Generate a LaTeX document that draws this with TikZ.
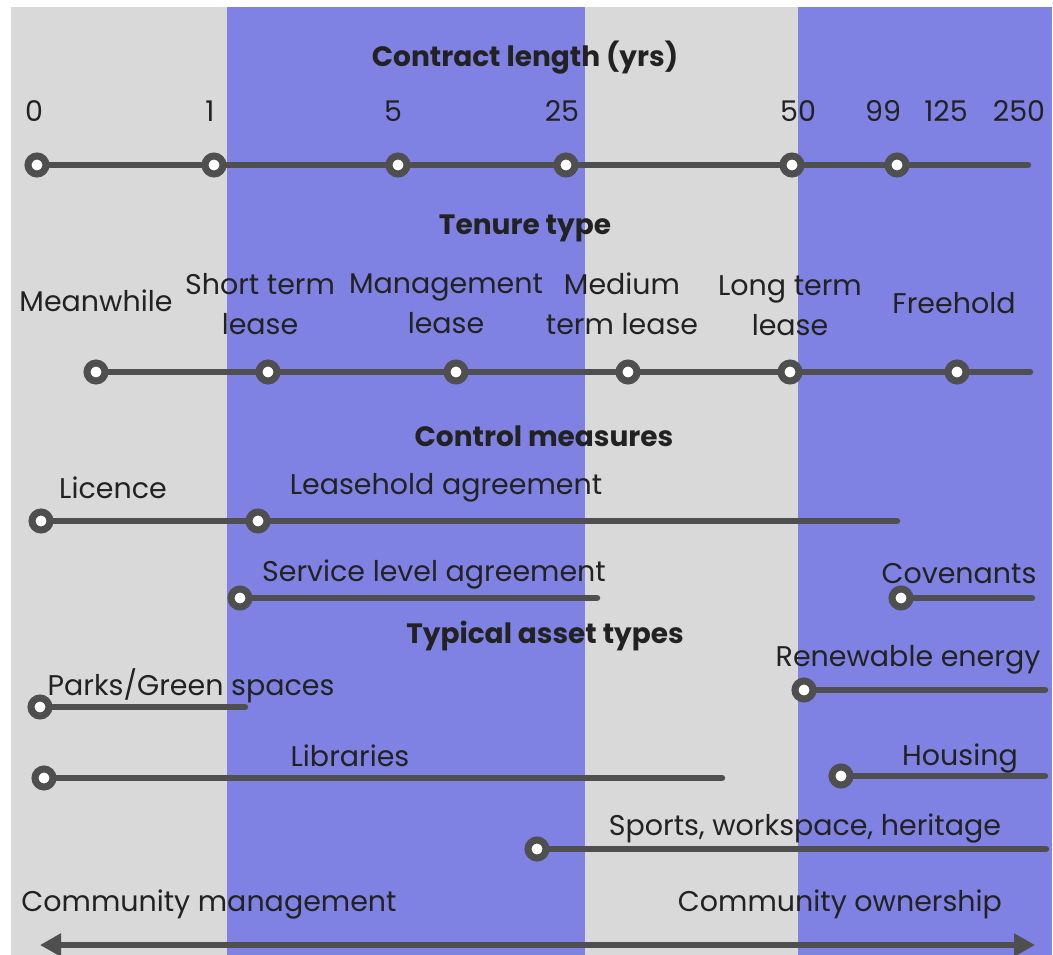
\documentclass[tikz,border=0pt]{standalone}
\usepackage{fontspec}
\setmainfont{Poppins}
\usetikzlibrary{arrows.meta}
\definecolor{bandgray}{HTML}{D9D9D9}
\definecolor{bandblue}{HTML}{7F82E2}
\definecolor{ink}{HTML}{222222}
\definecolor{linec}{HTML}{4F4F4F}
\tikzset{
  x=1pt, y=-1pt,
  lbl/.style={font=\fontsize{28.5}{40}\selectfont, text=ink, inner sep=0pt, align=center},
  head/.style={font=\fontsize{28}{34}\selectfont\bfseries, text=ink, inner sep=0pt},
  dot/.style={circle, draw=linec, line width=7pt, fill=white, minimum size=18pt, inner sep=0pt},
  seg/.style={draw=linec, line width=6.5pt, line cap=round},
}
\begin{document}
\begin{tikzpicture}
\useasboundingbox (0,0) rectangle (1053,955);
\fill[white] (0,0) rectangle (1053,955);
\fill[bandgray] (11,7) rectangle (227,955);
\fill[bandblue] (227,7) rectangle (585,955);
\fill[bandgray] (585,7) rectangle (798,955);
\fill[bandblue] (798,7) rectangle (1052,955);

% Contract length
\node[head] (h1) at (525,58) {Contract length (yrs)};
\node[lbl] (n0) at (34,111) {0};
\node[lbl] (n1) at (210,111) {1};
\node[lbl] (n5) at (393,111) {5};
\node[lbl] (n25) at (562,111) {25};
\node[lbl] (n50) at (798,111) {50};
\node[lbl] (n99) at (883,111) {99};
\node[lbl] (n125) at (946,111) {125};
\node[lbl] (n250) at (1019,111) {250};
\coordinate (a7) at (1028,165);
\path[seg] (37,165) coordinate (a1) -- (214,165) coordinate (a2) -- (398,165) coordinate (a3) -- (566,165) coordinate (a4) -- (792,165) coordinate (a5) -- (897,165) coordinate (a6) -- (a7);
\node[dot] (c1) at (a1) {};
\node[dot] (c2) at (a2) {};
\node[dot] (c3) at (a3) {};
\node[dot] (c4) at (a4) {};
\node[dot] (c5) at (a5) {};
\node[dot] (c6) at (a6) {};

% Tenure type
\node[head] (h2) at (525,228) {Tenure type};
\node[lbl] (t1) at (96,301) {Meanwhile};
\node[lbl] (t2) at (260,304) {Short term\\lease};
\node[lbl] (t3) at (446,304) {Management\\lease};
\node[lbl] (t4) at (622,304) {Medium\\term lease};
\node[lbl] (t5) at (790,306) {Long term\\lease};
\node[lbl] (t6) at (954,303) {Freehold};
\coordinate (b7) at (1030,372);
\path[seg] (96,372) coordinate (b1) -- (268,372) coordinate (b2) -- (456,372) coordinate (b3) -- (628,372) coordinate (b4) -- (790,372) coordinate (b5) -- (957,372) coordinate (b6) -- (b7);
\node[dot] (d1) at (b1) {};
\node[dot] (d2) at (b2) {};
\node[dot] (d3) at (b3) {};
\node[dot] (d4) at (b4) {};
\node[dot] (d5) at (b5) {};
\node[dot] (d6) at (b6) {};

% Control measures
\node[head] (h3) at (544,436) {Control measures};
\node[lbl] (m1) at (113,488) {Licence};
\node[lbl] (m2) at (446,488) {Leasehold agreement};
\coordinate (e3) at (897,521);
\path[seg] (41,521) coordinate (e1) -- (258,521) coordinate (e2) -- (e3);
\node[dot] (f1) at (e1) {};
\node[dot] (f2) at (e2) {};
\node[lbl] (m3) at (434,574) {Service level agreement};
\coordinate (e5) at (597,598);
\node[dot] (f4) at (240,598) {};
\path[seg] (f4) -- (e5);
\node[lbl] (m4) at (959,574) {Covenants};
\coordinate (e7) at (1032,598);
\node[dot] (f6) at (901,598) {};
\path[seg] (f6) -- (e7);

% Typical asset types
\node[head] (h4) at (545,636) {Typical asset types};
\node[lbl] (p1) at (908,660) {Renewable energy};
\node[dot] (g1) at (804,690) {};
\coordinate (q1) at (1045,690);
\path[seg] (g1) -- (q1);
\node[lbl] (p2) at (191,686) {Parks/Green spaces};
\node[dot] (g2) at (40,707) {};
\coordinate (q2) at (245,707);
\path[seg] (g2) -- (q2);
\node[lbl] (p3) at (350,756) {Libraries};
\node[dot] (g3) at (44,778) {};
\coordinate (q3) at (722,778);
\path[seg] (g3) -- (q3);
\node[lbl] (p4) at (960,758) {Housing};
\node[dot] (g4) at (841,776) {};
\coordinate (q4) at (1045,776);
\path[seg] (g4) -- (q4);
\node[lbl] (p5) at (805,828) {Sports, workspace, heritage};
\node[dot] (g5) at (537,849) {};
\coordinate (q5) at (1046,849);
\path[seg] (g5) -- (q5);

% Bottom arrow
\node[lbl] (k1) at (209,904) {Community management};
\node[lbl] (k2) at (840,904) {Community ownership};
\coordinate (L) at (40,945);
\coordinate (R) at (1035,945);
\draw[draw=linec, line width=6.5pt, {Triangle[length=21pt,width=22pt]}-{Triangle[length=21pt,width=22pt]}] (L) -- (R);
\end{tikzpicture}
\end{document}
